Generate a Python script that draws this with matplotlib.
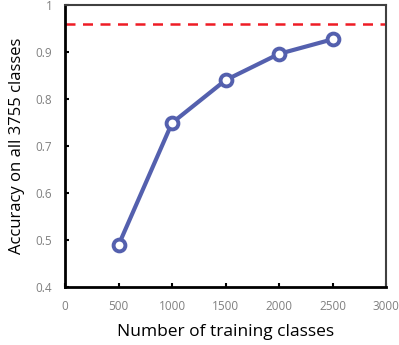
import matplotlib
matplotlib.use("Agg")
import matplotlib.pyplot as plt

classes = [500, 1000, 1500, 2000, 2500]
accuracy = [0.489, 0.749, 0.840, 0.896, 0.927]
full_acc = 0.959
xticks = [0, 500, 1000, 1500, 2000, 2500, 3000]
yticks = [0.4, 0.5, 0.6, 0.7, 0.8, 0.9, 1.0]
ytick_labels = ["0.4", "0.5", "0.6", "0.7", "0.8", "0.9", "1"]

plt.rcParams['font.family'] = ['Open Sans', 'DejaVu Sans']
fig = plt.figure(figsize=(3.99, 3.45), dpi=100)
ax = fig.add_axes([65/399, 1-287/345, (386-65)/399, (287-5)/345])

ax.axhline(full_acc, color='#EE1C25', lw=1.8, ls=(0, (4, 3)))
ax.plot(classes, accuracy, color='#5460AE', lw=3.0, marker='o', ms=8.5,
        mfc='white', mec='#5460AE', mew=2.8, zorder=3)

ax.set_xlim(0, 3000)
ax.set_ylim(0.4, 1.0)
ax.set_xticks(xticks)
ax.set_xticklabels([str(t) for t in xticks])
ax.set_yticks(yticks)
ax.set_yticklabels(ytick_labels)
ax.tick_params(direction='in', length=3, width=1.5, colors='black',
               labelcolor='#808080', labelsize=8.5, pad=9)
for s in ['left', 'bottom']:
    ax.spines[s].set_linewidth(2)
    ax.spines[s].set_color('black')
for s in ['top', 'right']:
    ax.spines[s].set_linewidth(1.5)
    ax.spines[s].set_color('#404040')

ax.set_xlabel('Number of training classes', fontsize=12.5, labelpad=8)
ax.set_ylabel('Accuracy on all 3755 classes', fontsize=12, labelpad=8)

fig.savefig('out.png', dpi=100)
